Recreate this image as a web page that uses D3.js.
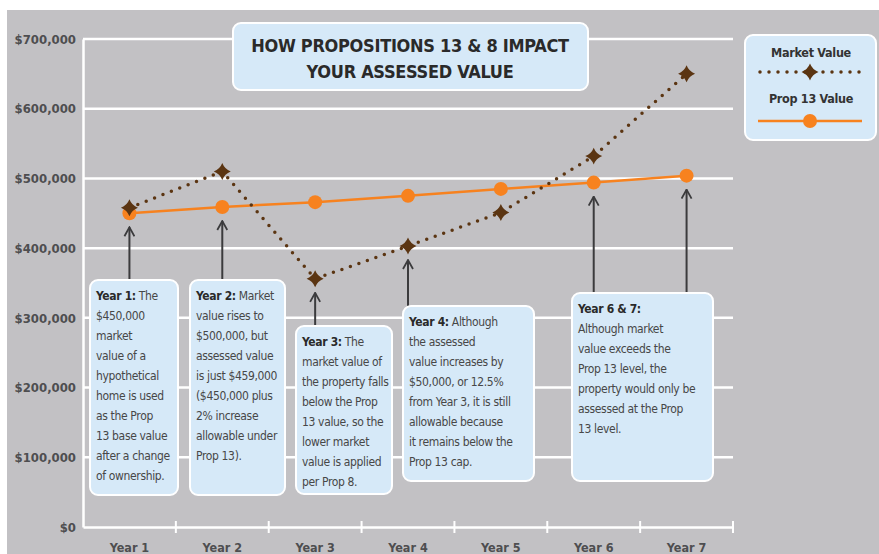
<!DOCTYPE html>
<html>
<head>
<meta charset="utf-8">
<script src="https://cdn.jsdelivr.net/npm/d3@7"></script>
<style>
  body { margin: 0; background: #fff; }
  svg { display: block; }
  text { font-family: "Liberation Sans Narrow", "DejaVu Sans Condensed", "Roboto", sans-serif; }
</style>
</head>
<body>
<div id="chart"></div>
<script>
// data
var years = ["Year 1", "Year 2", "Year 3", "Year 4", "Year 5", "Year 6", "Year 7"];
var marketValue = [458000, 510000, 356000, 403000, 451000, 532000, 650000];
var prop13Value = [450000, 459000, 466000, 475000, 485000, 494000, 504000];
var yTicks = [0, 100000, 200000, 300000, 400000, 500000, 600000, 700000];

var titleLines = ["HOW PROPOSITIONS 13 & 8 IMPACT", "YOUR ASSESSED VALUE"];

// callouts: which year the arrow goes to, bold lead, rest of lines
var notes = [
  { years: ["Year 1"], x0: 90, x1: 178, top: 280, bottom: 495, lead: "Year 1:",
    lines: [" The", "$450,000", "market", "value of a", "hypothetical", "home is used", "as the Prop", "13 base value", "after a change", "of ownership."] },
  { years: ["Year 2"], x0: 190, x1: 285, top: 280, bottom: 495, lead: "Year 2:",
    lines: [" Market", "value rises to", "$500,000, but", "assessed value", "is just $459,000", "($450,000 plus", "2% increase", "allowable under", "Prop 13)."] },
  { years: ["Year 3"], x0: 296, x1: 392, top: 326, bottom: 494, lead: "Year 3:",
    lines: [" The", "market value of", "the property falls", "below the Prop", "13 value, so the", "lower market", "value is applied", "per Prop 8."] },
  { years: ["Year 4"], x0: 403, x1: 534, top: 306, bottom: 481, lead: "Year 4:",
    lines: [" Although", "the assessed", "value increases by", "$50,000, or 12.5%", "from Year 3, it is still", "allowable because", "it remains below the", "Prop 13 cap."] },
  { years: ["Year 6", "Year 7"], x0: 572, x1: 713, top: 293, bottom: 481, lead: "Year 6 & 7:",
    lines: ["", "Although market", "value exceeds the", "Prop 13 level, the", "property would only be", "assessed at the Prop", "13 level."] }
];

var W = 879, H = 554;
var margin = { top: 39, right: 146, bottom: 27, left: 83 };

var svg = d3.select("#chart").append("svg")
  .attr("width", W)
  .attr("height", H);

svg.append("rect")
  .attr("x", 7).attr("y", 10)
  .attr("width", W - 7).attr("height", H - 10)
  .attr("fill", "#c2c1c4");

var x = d3.scaleBand()
  .domain(years)
  .range([margin.left, W - margin.right])
  .padding(0);

var y = d3.scaleLinear()
  .domain([0, 700000])
  .range([H - margin.bottom, margin.top]);

var cx = function (d) { return x(d) + x.bandwidth() / 2; };

// grid lines
svg.append("g")
  .selectAll("line")
  .data(yTicks.slice(1))
  .enter()
  .append("line")
  .attr("x1", margin.left)
  .attr("x2", W - margin.right)
  .attr("y1", function (d) { return y(d); })
  .attr("y2", function (d) { return y(d); })
  .attr("stroke", "#fff")
  .attr("stroke-width", 2.5);

// axes
var xAxis = svg.append("g")
  .attr("transform", "translate(0," + y(0) + ")")
  .call(d3.axisBottom(x).tickSize(0).tickPadding(16));
xAxis.select(".domain").attr("stroke", "#fff").attr("stroke-width", 2.5);
xAxis.selectAll("text").attr("fill", "#4e4e50").attr("font-size", 12.5).attr("font-weight", "bold");

// little tick marks at band edges
svg.append("g")
  .selectAll("line")
  .data(years)
  .enter()
  .append("line")
  .attr("x1", function (d) { return x(d) + x.bandwidth(); })
  .attr("x2", function (d) { return x(d) + x.bandwidth(); })
  .attr("y1", y(0) - 6)
  .attr("y2", y(0) + 6)
  .attr("stroke", "#fff")
  .attr("stroke-width", 2);

var yAxis = svg.append("g")
  .attr("transform", "translate(" + margin.left + ",0)")
  .call(d3.axisLeft(y).tickValues(yTicks).tickSize(0).tickPadding(7)
    .tickFormat(function (d) { return "$" + d3.format(",")(d); }));
yAxis.select(".domain").attr("stroke", "#fff").attr("stroke-width", 2.5);
yAxis.selectAll("text").attr("fill", "#4e4e50").attr("font-size", 13).attr("font-weight", "bold");

// 4 point star
var star4 = {
  draw: function (ctx, size) {
    var r = Math.sqrt(size), k = r * 0.28;
    ctx.moveTo(0, -r);
    ctx.quadraticCurveTo(k, -k, r, 0);
    ctx.quadraticCurveTo(k, k, 0, r);
    ctx.quadraticCurveTo(-k, k, -r, 0);
    ctx.quadraticCurveTo(-k, -k, 0, -r);
    ctx.closePath();
  }
};

var brown = "#5b3512", orange = "#f7821f", arrowColor = "#3b3b3d";

// arrows from boxes to points
svg.append("defs").append("marker")
  .attr("id", "head")
  .attr("viewBox", "-6 -1 12 12")
  .attr("markerWidth", 12).attr("markerHeight", 12)
  .attr("refX", 0).attr("refY", 0)
  .attr("markerUnits", "userSpaceOnUse")
  .attr("orient", 0)
  .append("path")
  .attr("d", "M-5,9 L0,0 L5,9")
  .attr("fill", "none")
  .attr("stroke", arrowColor)
  .attr("stroke-width", 1.8);

var arrows = [];
notes.forEach(function (n) {
  n.years.forEach(function (yr) {
    var i = years.indexOf(yr);
    var lo = Math.max(y(marketValue[i]), y(prop13Value[i]));
    arrows.push({ x: cx(yr), from: n.top, to: lo + 14 });
  });
});

svg.append("g")
  .selectAll("line")
  .data(arrows)
  .enter()
  .append("line")
  .attr("x1", function (d) { return d.x; })
  .attr("x2", function (d) { return d.x; })
  .attr("y1", function (d) { return d.from; })
  .attr("y2", function (d) { return d.to; })
  .attr("stroke", arrowColor)
  .attr("stroke-width", 2)
  .attr("marker-end", "url(#head)");

// prop 13 line
var line = d3.line()
  .x(function (d, i) { return cx(years[i]); })
  .y(function (d) { return y(d); });

svg.append("path")
  .datum(prop13Value)
  .attr("d", line)
  .attr("fill", "none")
  .attr("stroke", orange)
  .attr("stroke-width", 2.5);

svg.append("g")
  .selectAll("circle")
  .data(prop13Value)
  .enter()
  .append("circle")
  .attr("cx", function (d, i) { return cx(years[i]); })
  .attr("cy", function (d) { return y(d); })
  .attr("r", 7)
  .attr("fill", orange);

// market value dotted line
svg.append("path")
  .datum(marketValue)
  .attr("d", line)
  .attr("fill", "none")
  .attr("stroke", brown)
  .attr("stroke-width", 3.5)
  .attr("stroke-linecap", "round")
  .attr("stroke-dasharray", "0 9");

svg.append("g")
  .selectAll("path")
  .data(marketValue)
  .enter()
  .append("path")
  .attr("transform", function (d, i) { return "translate(" + cx(years[i]) + "," + y(d) + ")"; })
  .attr("d", d3.symbol().type(star4).size(72))
  .attr("fill", brown);

// callout boxes
var boxFill = "#d6e9f8";
var box = svg.append("g")
  .selectAll("g")
  .data(notes)
  .enter()
  .append("g");

box.append("rect")
  .attr("x", function (d) { return d.x0; })
  .attr("y", function (d) { return d.top; })
  .attr("width", function (d) { return d.x1 - d.x0; })
  .attr("height", function (d) { return d.bottom - d.top; })
  .attr("rx", 8)
  .attr("fill", boxFill)
  .attr("stroke", "#fff")
  .attr("stroke-width", 2);

box.each(function (d) {
  var g = d3.select(this);
  var t = g.append("text")
    .attr("x", d.x0 + 6)
    .attr("y", d.top + 20)
    .attr("font-size", 12)
    .attr("letter-spacing", -0.35)
    .attr("fill", "#474747");
  t.append("tspan").attr("font-weight", "bold").attr("fill", "#2a2a2a").text(d.lead);
  t.append("tspan").text(d.lines[0]);
  d.lines.slice(1).forEach(function (l, i) {
    g.append("text")
      .attr("x", d.x0 + 6)
      .attr("y", d.top + 20 + (i + 1) * 20)
      .attr("font-size", 12)
      .attr("letter-spacing", -0.35)
      .attr("fill", "#474747")
      .text(l);
  });
});

// title
svg.append("rect")
  .attr("x", 233).attr("y", 23)
  .attr("width", 355).attr("height", 67)
  .attr("rx", 8)
  .attr("fill", boxFill)
  .attr("stroke", "#fff")
  .attr("stroke-width", 2);

svg.append("g")
  .selectAll("text")
  .data(titleLines)
  .enter()
  .append("text")
  .attr("x", 410)
  .attr("y", function (d, i) { return 52 + i * 26; })
  .attr("text-anchor", "middle")
  .attr("font-size", 18)
  .attr("letter-spacing", -0.3)
  .attr("font-weight", "bold")
  .attr("fill", "#2a2a2a")
  .text(function (d) { return d; });

// legend
var lg = svg.append("g");
lg.append("rect")
  .attr("x", 745).attr("y", 35)
  .attr("width", 131).attr("height", 105)
  .attr("rx", 8)
  .attr("fill", boxFill)
  .attr("stroke", "#fff")
  .attr("stroke-width", 2);

lg.append("text")
  .attr("x", 811).attr("y", 57)
  .attr("text-anchor", "middle")
  .attr("font-size", 12.5).attr("letter-spacing", -0.3)
  .attr("font-weight", "bold").attr("fill", "#333")
  .text("Market Value");
lg.append("line")
  .attr("x1", 760).attr("x2", 862).attr("y1", 72).attr("y2", 72)
  .attr("stroke", brown).attr("stroke-width", 3.5)
  .attr("stroke-linecap", "round").attr("stroke-dasharray", "0 9");
lg.append("path")
  .attr("transform", "translate(810,72)")
  .attr("d", d3.symbol().type(star4).size(72))
  .attr("fill", brown);

lg.append("text")
  .attr("x", 811).attr("y", 103)
  .attr("text-anchor", "middle")
  .attr("font-size", 12.5).attr("letter-spacing", -0.3)
  .attr("font-weight", "bold").attr("fill", "#333")
  .text("Prop 13 Value");
lg.append("line")
  .attr("x1", 758).attr("x2", 862).attr("y1", 121).attr("y2", 121)
  .attr("stroke", orange).attr("stroke-width", 2.5);
lg.append("circle")
  .attr("cx", 810).attr("cy", 121).attr("r", 7)
  .attr("fill", orange);
</script>
</body>
</html>
